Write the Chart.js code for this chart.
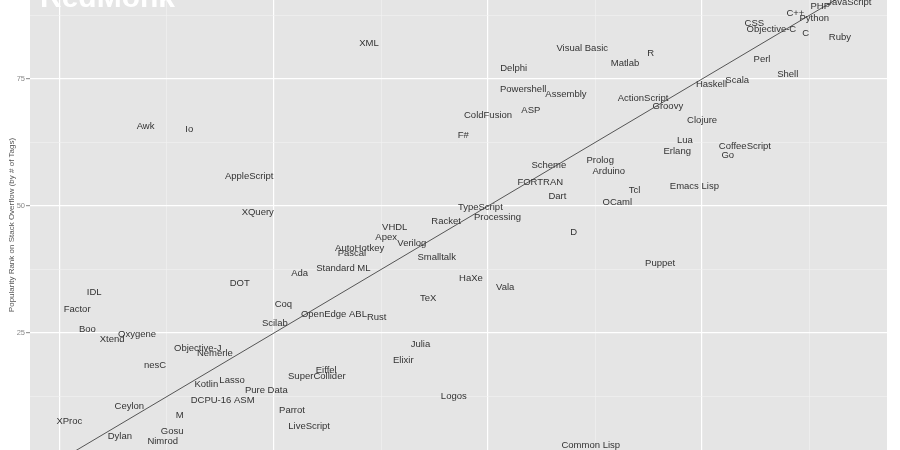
<!DOCTYPE html>
<html>
<head>
<meta charset="utf-8">
<script src="https://cdn.jsdelivr.net/npm/chart.js@4"></script>
<style>
  html, body { margin: 0; padding: 0; background: #fff; }
  #wrap { width: 900px; height: 450px; }
</style>
</head>
<body>
<div id="wrap"><canvas id="rankChart"></canvas></div>
<script>
const languages = [
  "JavaScript", "Java", "PHP", "Python", "C++", "Ruby", "C", "Objective-C", "CSS",
  "Perl", "Shell", "Scala", "Haskell", "R", "Matlab", "Visual Basic", "XML",
  "Delphi", "Powershell", "Assembly", "ASP", "ColdFusion", "F#", "ActionScript",
  "Groovy", "Clojure", "Lua", "Erlang", "CoffeeScript", "Go", "Emacs Lisp",
  "Scheme", "FORTRAN", "Dart", "Prolog", "Arduino", "Tcl", "OCaml", "D", "Puppet",
  "TypeScript", "Processing", "Racket", "VHDL", "Apex", "Verilog", "AutoHotkey",
  "Pascal", "Standard ML", "Smalltalk", "HaXe", "Vala", "TeX", "Ada", "DOT",
  "AppleScript", "XQuery", "Awk", "Io", "IDL", "Factor", "Boo", "Xtend", "Oxygene",
  "Objective-J", "Nemerle", "nesC", "Kotlin", "Lasso", "Pure Data", "DCPU-16 ASM",
  "Ceylon", "M", "XProc", "Gosu", "Dylan", "Nimrod", "ooc", "Coq", "Scilab",
  "OpenEdge ABL", "Rust", "Julia", "Elixir", "Eiffel", "SuperCollider", "Parrot",
  "LiveScript", "Logos", "Common Lisp"
];

// popularity rank on GitHub (x)
const githubRank = [
  92.2, 90.2, 88.8, 88.1, 85.9, 91.1, 87.1, 83.1, 81.1,
  82.0, 85.0, 79.1, 76.1, 69.0, 66.0, 61.0, 36.1,
  53.0, 54.1, 59.1, 55.0, 50.0, 47.1, 68.1,
  71.0, 75.0, 73.0, 72.1, 80.0, 78.0, 74.1,
  57.1, 56.1, 58.1, 63.1, 64.1, 67.1, 65.1, 60.0, 70.1,
  49.1, 51.1, 45.1, 39.1, 38.1, 41.1, 35.0,
  34.1, 33.1, 44.0, 48.0, 52.0, 43.0, 28.0, 21.0,
  22.1, 23.1, 10.0, 15.1, 4.0, 2.0, 3.2, 6.1, 9.0,
  16.1, 18.1, 11.1, 17.1, 20.1, 24.1, 19.0,
  8.1, 14.0, 1.1, 13.1, 7.0, 12.0, 5.0, 26.1, 25.1,
  32.0, 37.0, 42.1, 40.1, 31.1, 30.0, 27.1,
  29.1, 46.0, 62.0
];

// popularity rank on Stack Overflow (y)
const stackRank = [
  90.0, 91.5, 89.2, 87.0, 88.0, 83.1, 83.9, 84.8, 86.0,
  78.9, 76.0, 74.8, 74.0, 80.1, 78.0, 81.1, 82.1,
  77.0, 73.0, 71.9, 68.9, 67.9, 64.0, 71.1,
  69.7, 66.9, 63.0, 60.8, 61.8, 60.0, 53.9,
  57.9, 54.7, 51.8, 58.9, 56.9, 53.0, 50.8, 44.9, 38.8,
  49.8, 47.8, 46.9, 45.7, 43.9, 42.7, 41.7,
  40.7, 37.8, 39.8, 35.8, 33.9, 31.9, 36.8, 34.8,
  55.9, 48.8, 65.7, 65.0, 32.9, 29.7, 25.8, 23.8, 24.8,
  21.9, 20.9, 18.7, 14.8, 15.7, 13.8, 11.8,
  10.6, 8.7, 7.7, 5.7, 4.7, 3.7, 1.5, 30.7, 26.8,
  28.7, 28.0, 22.8, 19.7, 17.7, 16.5, 9.8,
  6.7, 12.6, 2.8
];

const fitLine = [{ x: -10, y: -10 }, { x: 110, y: 110 }];
const yGridValues = [12.5, 25, 37.5, 50, 62.5, 75, 87.5];
const xGridValues = [0, 12.5, 25, 37.5, 50, 62.5, 75, 87.5, 100];

const points = languages.map((name, i) => ({ x: githubRank[i], y: stackRank[i] }));

function isMajor(v) {
  return v % 25 === 0;
}

function noPadding(scale) {
  scale.paddingTop = 0;
  scale.paddingBottom = 0;
  scale.paddingLeft = 0;
  scale.paddingRight = 0;
}

const panelPlugin = {
  id: "panel",
  beforeDraw(chart) {
    const { ctx, chartArea } = chart;
    ctx.save();
    ctx.fillStyle = "#e5e5e5";
    ctx.fillRect(chartArea.left, chartArea.top,
      chartArea.right - chartArea.left, chartArea.bottom - chartArea.top);
    ctx.restore();
  },
  afterDraw(chart) {
    const ctx = chart.ctx;
    ctx.save();
    ctx.font = "bold 30px 'Liberation Sans', Arial, sans-serif";
    ctx.fillStyle = "#ffffff";
    ctx.textAlign = "left";
    ctx.textBaseline = "alphabetic";
    ctx.fillText("RedMonk", 40, 7);
    ctx.restore();
  },
};

const labelPlugin = {
  id: "langLabels",
  afterDatasetsDraw(chart) {
    const ctx = chart.ctx;
    const meta = chart.getDatasetMeta(1);
    ctx.save();
    ctx.font = "9.5px 'Liberation Sans', Arial, sans-serif";
    ctx.fillStyle = "#333333";
    ctx.textAlign = "center";
    ctx.textBaseline = "middle";
    meta.data.forEach((pt, i) => {
      ctx.fillText(languages[i], pt.x, pt.y);
    });
    ctx.restore();
  },
};

const ctx = document.getElementById("rankChart").getContext("2d");

new Chart(ctx, {
  type: "scatter",
  data: {
    datasets: [
      {
        type: "line",
        data: fitLine,
        borderColor: "#555555",
        borderWidth: 1,
        pointRadius: 0,
        fill: false,
      },
      {
        data: points,
        pointRadius: 0,
        pointHoverRadius: 0,
      },
    ],
  },
  options: {
    responsive: true,
    maintainAspectRatio: false,
    animation: false,
    layout: { padding: { left: 0, right: 13, top: 0, bottom: 0 } },
    plugins: {
      legend: { display: false },
      tooltip: { enabled: false },
    },
    scales: {
      x: {
        type: "linear",
        min: -3.5,
        max: 96.6,
        afterBuildTicks: (scale) => {
          scale.ticks = xGridValues.map((v) => ({ value: v }));
        },
        afterFit: (scale) => {
          scale.height = 0;
          noPadding(scale);
        },
        ticks: { display: false },
        border: { display: false },
        grid: {
          drawTicks: false,
          color: (c) => (isMajor(c.tick.value) ? "#ffffff" : "#f2f2f2"),
          lineWidth: (c) => (isMajor(c.tick.value) ? 1.2 : 0.6),
        },
      },
      y: {
        type: "linear",
        min: 1.97,
        max: 90.55,
        afterBuildTicks: (scale) => {
          scale.ticks = yGridValues.map((v) => ({ value: v }));
        },
        afterFit: (scale) => {
          scale.width = 30;
          noPadding(scale);
        },
        ticks: {
          padding: 1,
          color: "#8a8a8a",
          font: { size: 7.5, family: "'Liberation Sans', Arial, sans-serif" },
          callback: (v) => (isMajor(v) ? String(v) : ""),
        },
        border: { display: false },
        grid: {
          tickLength: 4,
          color: (c) => (isMajor(c.tick.value) ? "#ffffff" : "#f2f2f2"),
          lineWidth: (c) => (isMajor(c.tick.value) ? 1.2 : 0.6),
          tickColor: (c) => (isMajor(c.tick.value) ? "#9a9a9a" : "rgba(0,0,0,0)"),
        },
        title: {
          display: true,
          text: "Popularity Rank on Stack Overflow (by # of Tags)",
          color: "#555555",
          font: { size: 8, family: "'Liberation Sans', Arial, sans-serif" },
          padding: { top: 7, bottom: 0 },
        },
      },
    },
  },
  plugins: [panelPlugin, labelPlugin],
});
</script>
</body>
</html>
